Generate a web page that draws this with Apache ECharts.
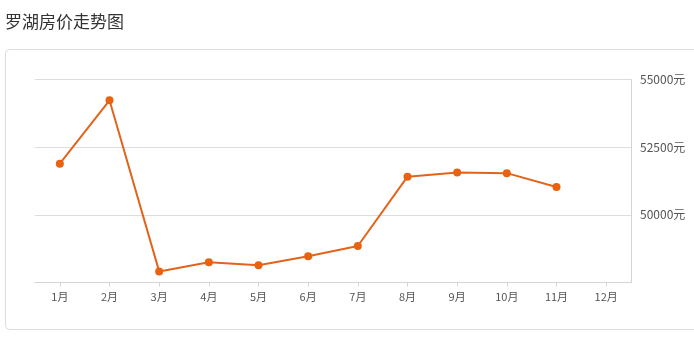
<!DOCTYPE html>
<html>
<head>
<meta charset="utf-8">
<script src="https://cdn.jsdelivr.net/npm/echarts@6/dist/echarts.min.js"></script>
<style>
html,body{margin:0;padding:0;background:#fff;}
#c{width:694px;height:339px;}
</style>
</head>
<body>
<div id="c"></div>
<script>
const titleText = '罗湖房价走势图';
const months = ['1月','2月','3月','4月','5月','6月','7月','8月','9月','10月','11月','12月'];
const prices = [51890, 54230, 47910, 48250, 48140, 48470, 48850, 51410, 51560, 51540, 51030, null];
const yMin = 47500, yMax = 55000, yStep = 2500;
const yUnit = '元';

const chart = echarts.init(document.getElementById('c'), null, {renderer: 'canvas'});
chart.setOption({
  animation: false,
  backgroundColor: '#fff',
  title: {
    text: titleText,
    left: 0, top: 8,
    textStyle: {fontFamily: 'Noto Sans CJK SC', fontSize: 17, fontWeight: 'normal', color: '#333'}
  },
  graphic: [{
    type: 'rect',
    shape: {x: 5.5, y: 49.5, width: 700, height: 280, r: 4},
    style: {fill: 'none', stroke: '#ddd', lineWidth: 1},
    z: -1
  }],
  grid: {left: 35, right: 63, top: 79.5, bottom: 56.5, containLabel: false},
  xAxis: {
    type: 'category',
    data: months,
    boundaryGap: true,
    axisLine: {lineStyle: {color: '#d4d4d4', width: 1}},
    axisTick: {show: true, alignWithLabel: true, length: 4, lineStyle: {color: '#d4d4d4'}},
    axisLabel: {color: '#555', fontSize: 11, fontFamily: 'Noto Sans CJK SC', margin: 9}
  },
  yAxis: {
    type: 'value',
    position: 'right',
    min: yMin, max: yMax, interval: yStep,
    axisLine: {show: true, lineStyle: {color: '#d4d4d4', width: 1}},
    axisTick: {show: false},
    splitLine: {lineStyle: {color: '#ddd', width: 1}},
    axisLabel: {
      formatter: function (v) { return String(v) + yUnit; },
      color: '#555', fontSize: 12, margin: 9,
      fontFamily: 'Noto Sans CJK SC', showMinLabel: false
    }
  },
  series: [{
    type: 'line',
    data: prices,
    symbol: 'circle',
    symbolSize: 8,
    lineStyle: {color: '#e2641c', width: 2},
    itemStyle: {color: '#e8620f'}
  }]
});
</script>
</body>
</html>
